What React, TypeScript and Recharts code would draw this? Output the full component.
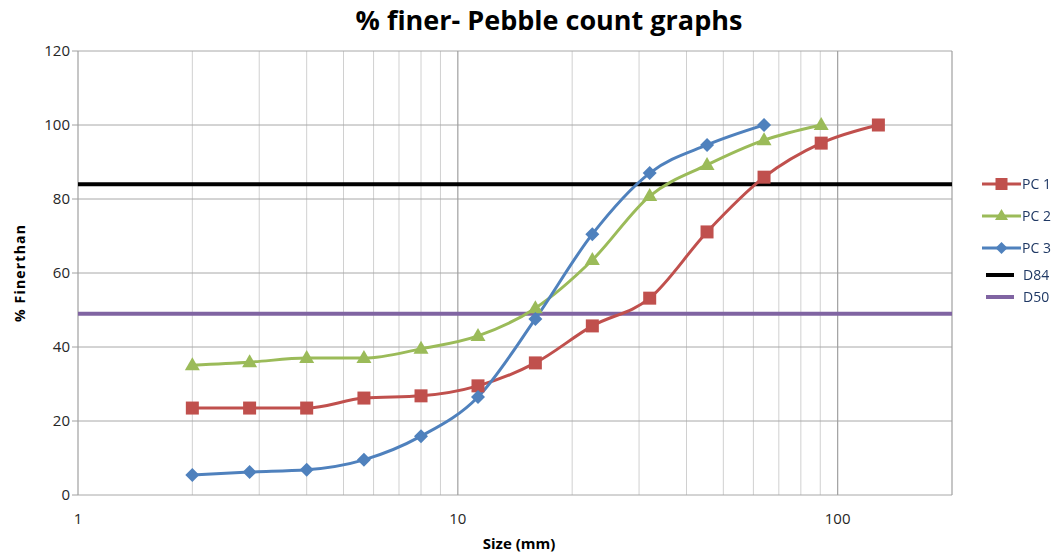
import {
  LineChart,
  Line,
  XAxis,
  YAxis,
  ReferenceLine,
} from "recharts";

// sieve sizes (mm), phi scale
const sizes = [2, 2.83, 4, 5.66, 8, 11.3, 16, 22.6, 32, 45.3, 64, 90.5, 128];
const pc1 = [23.5, 23.5, 23.5, 26.2, 26.8, 29.5, 35.7, 45.7, 53.2, 71.1, 85.9, 95.1, 100];
const pc2 = [35.1, 35.9, 37, 37, 39.5, 43, 50.5, 63.5, 80.8, 89.2, 95.9, 100];
const pc3 = [5.4, 6.2, 6.8, 9.5, 15.9, 26.5, 47.6, 70.5, 87, 94.6, 100];
const d84 = 84;
const d50 = 49;

const xTicks = [1, 10, 100];
const yTicks = [0, 20, 40, 60, 80, 100, 120];
const majorGrid = [1, 10, 100, 200];
const minorGrid = [2, 3, 4, 5, 6, 7, 8, 9, 20, 30, 40, 50, 60, 70, 80, 90];

const toRows = (vals: number[]) => vals.map((v, i) => ({ size: sizes[i], value: v }));

const RED = "#C0504D";
const GREEN = "#9BBB59";
const BLUE = "#4F81BD";
const PURPLE = "#8064A2";

const Square = (p: any) => {
  const { cx, cy } = p;
  if (cx == null || cy == null) return null;
  return <rect key={`s${cx}`} x={cx - 6.5} y={cy - 6.5} width={13} height={13} fill={RED} />;
};

const Triangle = (p: any) => {
  const { cx, cy } = p;
  if (cx == null || cy == null) return null;
  return (
    <polygon
      key={`t${cx}`}
      points={`${cx},${cy - 8} ${cx + 7.5},${cy + 5} ${cx - 7.5},${cy + 5}`}
      fill={GREEN}
    />
  );
};

const Diamond = (p: any) => {
  const { cx, cy } = p;
  if (cx == null || cy == null) return null;
  return (
    <polygon
      key={`d${cx}`}
      points={`${cx},${cy - 7} ${cx + 7},${cy} ${cx},${cy + 7} ${cx - 7},${cy}`}
      fill={BLUE}
    />
  );
};

const legendItems = [
  { name: "PC 1", color: RED, marker: "square", y: 184 },
  { name: "PC 2", color: GREEN, marker: "triangle", y: 216 },
  { name: "PC 3", color: BLUE, marker: "diamond", y: 248 },
  { name: "D84", color: "#000", marker: "none", y: 275 },
  { name: "D50", color: PURPLE, marker: "none", y: 297 },
];

function ChartLegend() {
  return (
    <svg
      width={100}
      height={160}
      style={{ position: "absolute", left: 980, top: 160, overflow: "visible" }}
    >
      {legendItems.map((it) => {
        const y = it.y - 160;
        const plain = it.marker === "none";
        return (
          <g key={it.name}>
            <line
              x1={plain ? 6 : 2}
              x2={plain ? 34 : 41}
              y1={y}
              y2={y}
              stroke={it.color}
              strokeWidth={plain ? 4 : 3}
            />
            {it.marker === "square" && <rect x={15.5} y={y - 6} width={12} height={12} fill={it.color} />}
            {it.marker === "triangle" && (
              <polygon points={`21.5,${y - 7} 28,${y + 4} 15,${y + 4}`} fill={it.color} />
            )}
            {it.marker === "diamond" && (
              <polygon points={`21.5,${y - 6} 27.5,${y} 21.5,${y + 6} 15.5,${y}`} fill={it.color} />
            )}
            <text x={plain ? 43 : 42} y={y + 5} fontSize={14} fill="#1F3864" fontFamily="Open Sans, sans-serif">
              {it.name}
            </text>
          </g>
        );
      })}
    </svg>
  );
}

export default function App() {
  return (
    <div
      style={{
        position: "fixed",
        left: 0,
        top: 0,
        width: 1059,
        height: 557,
        background: "#fff",
        fontFamily: "Open Sans, sans-serif",
      }}
    >
      <div
        style={{
          position: "absolute",
          left: 0,
          width: 1098,
          top: 1,
          textAlign: "center",
          fontSize: 27,
          fontWeight: 700,
          color: "#000",
        }}
      >
        % finer- Pebble count graphs
      </div>
      <LineChart
        width={1059}
        height={557}
        margin={{ top: 51, right: 107, left: 30, bottom: 34 }}
      >
        <XAxis
          dataKey="size"
          type="number"
          scale="log"
          domain={[1, 200]}
          ticks={xTicks}
          allowDataOverflow
          axisLine={false}
          tickLine={false}
          tick={{ fill: "#262626", fontSize: 15 }}
          tickMargin={12}
          height={28}
          label={{
            value: "Size (mm)",
            position: "insideBottom",
            offset: -26,
            dx: 4,
            style: { fill: "#000", fontSize: 15, fontWeight: 700 },
          }}
        />
        <YAxis
          type="number"
          domain={[0, 120]}
          ticks={yTicks}
          width={48}
          axisLine={false}
          tickLine={{ stroke: "#a0a0a0" }}
          tickSize={6}
          tick={{ fill: "#262626", fontSize: 15 }}
          label={{
            value: "% Finerthan",
            angle: -90,
            position: "insideLeft",
            offset: -10,
            style: { fill: "#000", fontSize: 14, fontWeight: 700, letterSpacing: 1.2, textAnchor: "middle" },
          }}
        />
        {minorGrid.map((v) => (
          <ReferenceLine key={`mx${v}`} x={v} stroke="#d0d0d0" strokeWidth={1} />
        ))}
        {yTicks.map((v) => (
          <ReferenceLine key={`gy${v}`} y={v} stroke="#a8a8a8" strokeWidth={1} />
        ))}
        {majorGrid.map((v) => (
          <ReferenceLine key={`gx${v}`} x={v} stroke="#a0a0a0" strokeWidth={1.2} />
        ))}
        <ReferenceLine y={d84} stroke="#000" strokeWidth={4} />
        <ReferenceLine y={d50} stroke={PURPLE} strokeWidth={4} />
        <Line
          data={toRows(pc1)}
          dataKey="value"
          name="PC 1"
          type="monotone"
          stroke={RED}
          strokeWidth={3}
          dot={Square}
          activeDot={false}
          isAnimationActive={false}
        />
        <Line
          data={toRows(pc2)}
          dataKey="value"
          name="PC 2"
          type="monotone"
          stroke={GREEN}
          strokeWidth={3}
          dot={Triangle}
          activeDot={false}
          isAnimationActive={false}
        />
        <Line
          data={toRows(pc3)}
          dataKey="value"
          name="PC 3"
          type="monotone"
          stroke={BLUE}
          strokeWidth={3}
          dot={Diamond}
          activeDot={false}
          isAnimationActive={false}
        />
      </LineChart>
      <ChartLegend />
    </div>
  );
}
